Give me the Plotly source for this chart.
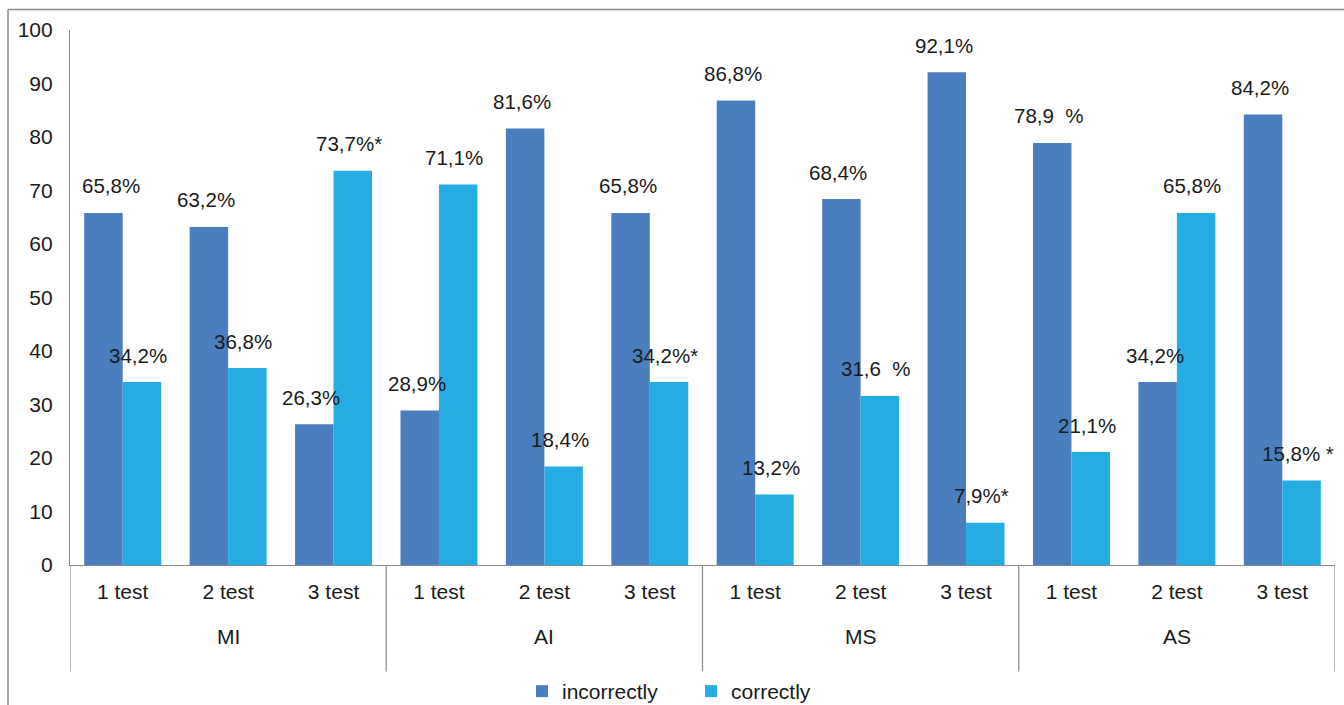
import plotly.graph_objects as go

groups = ["MI", "AI", "MS", "AS"]
tests = ["1 test", "2 test", "3 test"] * 4
incorrectly = [65.8, 63.2, 26.3, 28.9, 81.6, 65.8, 86.8, 68.4, 92.1, 78.9, 34.2, 84.2]
correctly = [34.2, 36.8, 73.7, 71.1, 18.4, 34.2, 13.2, 31.6, 7.9, 21.1, 65.8, 15.8]
incorrect_labels = ["65,8%", "63,2%", "26,3%", "28,9%", "81,6%", "65,8%",
                    "86,8%", "68,4%", "92,1%", "78,9  %", "34,2%", "84,2%"]
correct_labels = ["34,2%", "36,8%", "73,7%*", "71,1%", "18,4%", "34,2%*",
                  "13,2%", "31,6  %", "7,9%*", "21,1%", "65,8%", "15,8% *"]
y_ticks = list(range(0, 101, 10))

C_INC = "#4A7EBF"
C_COR = "#25ACE2"
GRID = "#8a8a8a"
TXT = "#1a1a1a"
FONT = "Liberation Sans, Arial, sans-serif"

xs = list(range(len(tests)))
per_group = len(tests) // len(groups)

fig = go.Figure()
fig.add_trace(go.Bar(x=xs, y=incorrectly, name="incorrectly",
                     marker=dict(color=C_INC, line=dict(width=0))))
fig.add_trace(go.Bar(x=xs, y=correctly, name="correctly",
                     marker=dict(color=C_COR, line=dict(width=0))))

PLOT_H = 535.0
PLOT_W = 1265.0
BAR_OFF = 0.183
annots = []
for i, (v, t) in enumerate(zip(incorrectly, incorrect_labels)):
    annots.append(dict(x=xs[i] - BAR_OFF, y=v, text=t, showarrow=False, xref="x", yref="y",
                       yshift=27, xshift=(8 if i == 0 else -3),
                       font=dict(size=20.5, color=TXT, family=FONT)))
for i, (v, t) in enumerate(zip(correctly, correct_labels)):
    annots.append(dict(x=xs[i] + BAR_OFF, y=v, text=t, showarrow=False, xref="x", yref="y",
                       yshift=27, xshift=-4,
                       font=dict(size=20.5, color=TXT, family=FONT)))
# group labels
for g, name in enumerate(groups):
    center = (xs[g * per_group] + xs[(g + 1) * per_group - 1]) / 2
    annots.append(dict(x=center, y=-71.5 / PLOT_H, xref="x", yref="paper", text=name,
                       showarrow=False, yanchor="middle",
                       font=dict(size=21, color=TXT, family=FONT)))

shapes = []
# dividers
for g in range(len(groups) + 1):
    xd = g * per_group - 0.5
    shapes.append(dict(type="line", xref="x", yref="paper", x0=xd, x1=xd,
                       y0=0, y1=-106.5 / PLOT_H, line=dict(color=GRID, width=1.2)))
# outer frame (left and top)
shapes.append(dict(type="line", xref="paper", yref="paper", x0=-62/PLOT_W, x1=-62/PLOT_W,
                   y0=(565.5-10)/PLOT_H, y1=-0.3, line=dict(color=GRID, width=1.5)))
shapes.append(dict(type="line", xref="paper", yref="paper", x0=-62/PLOT_W, x1=1.01,
                   y0=(565.5-10)/PLOT_H, y1=(565.5-10)/PLOT_H, line=dict(color=GRID, width=1.5)))

fig.update_layout(
    width=1344, height=705,
    margin=dict(l=70, r=9, t=30, b=139.5, pad=0, autoexpand=False),
    plot_bgcolor="white", paper_bgcolor="white",
    barmode="group", bargap=0.27, bargroupgap=0,
    font=dict(family=FONT, size=21, color=TXT),
    showlegend=True,
    legend=dict(orientation="h", x=(522-70)/PLOT_W, xanchor="left",
                y=-(692-565.5)/PLOT_H, yanchor="middle", entrywidth=124,
                font=dict(size=21), traceorder="normal"),
    annotations=annots,
    shapes=shapes,
)
fig.update_yaxes(range=[0, 100], tickvals=y_ticks, showgrid=False, zeroline=False,
                 showline=True, linecolor=GRID, linewidth=1.2, automargin=False,
                 ticks="", ticklabelstandoff=12, tickfont=dict(size=21))
fig.update_xaxes(range=[-0.5, len(tests) - 0.5], tickvals=xs, ticktext=tests,
                 showgrid=False, zeroline=False, showline=True, linecolor=GRID,
                 linewidth=1.2, automargin=False, ticks="", ticklabelstandoff=8,
                 tickfont=dict(size=21))

fig.write_html("out.html")
